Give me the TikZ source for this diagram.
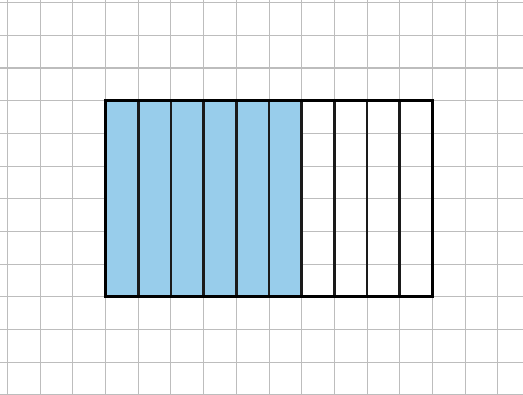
\documentclass[tikz,border=0pt]{standalone}
\usepackage{tikz}
\definecolor{gridgray}{HTML}{BDBDBD}
\definecolor{barblue}{HTML}{98CDEB}
\definecolor{edge}{HTML}{1A1A1A}
\begin{document}
\begin{tikzpicture}[scale=1]
\useasboundingbox (-0.23,0) rectangle (15.77,12.08);
\foreach \x in {0,...,15}{\draw[gridgray,line width=0.9pt] (\x,0)--(\x,12.08);}
\foreach \y in {0,...,12}{\draw[gridgray,line width=0.9pt] (-0.23,\y)--(15.77,\y);}
\fill[barblue] (3,3) rectangle (9,9);
\foreach \x in {4,...,12}{\draw[edge,line width=2.4pt] (\x,3)--(\x,9);}
\draw[black,line width=2.5pt] (3,3) rectangle (13,9);
\end{tikzpicture}
\end{document}
